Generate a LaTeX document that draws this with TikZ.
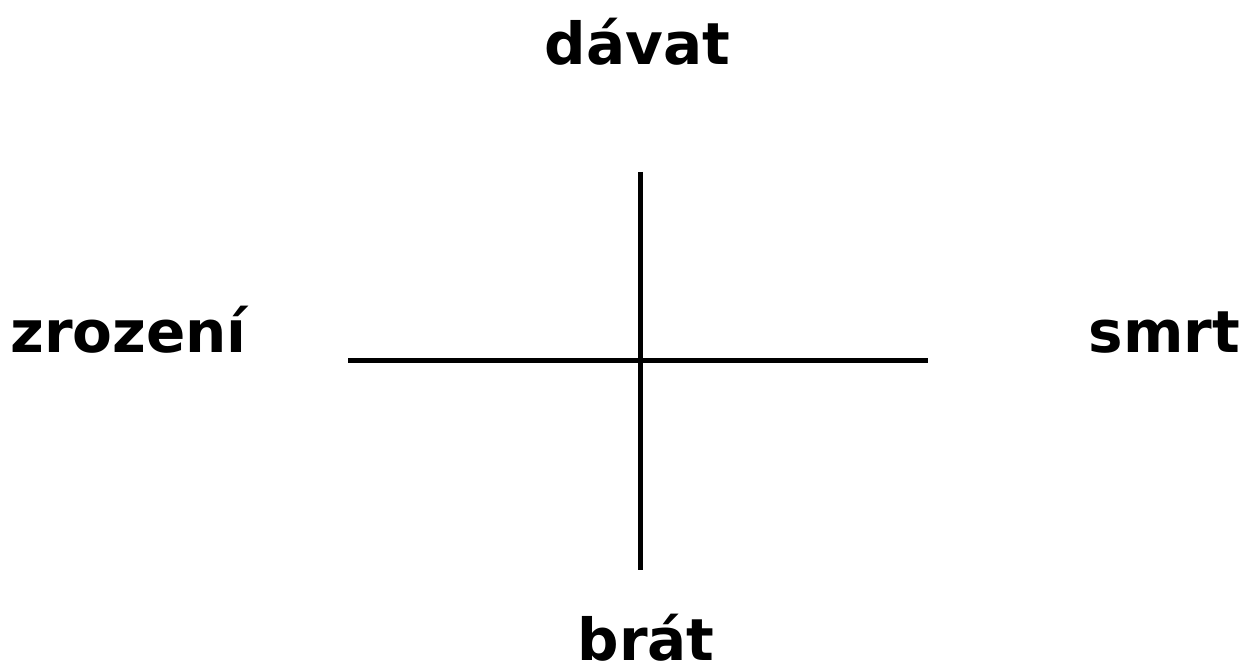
\documentclass[tikz,border=0pt]{standalone}
\usepackage{fontspec}
\setmainfont{DejaVu Sans}
\usetikzlibrary{positioning}

\begin{document}
\begin{tikzpicture}[
    x=0.5pt, y=-0.5pt,
    lbl/.style={inner sep=0pt, anchor=base, font=\fontsize{29}{32}\selectfont\bfseries},
    ax/.style={line width=2.5pt}]
\useasboundingbox (0,0) rectangle (1244,667);
\node[lbl] (give) at (637.5,65) {dávat};
\node[lbl] (take) at (646,661) {brát};
\node[lbl] (birth) at (128.5,353) {zrození};
\node[lbl] (death) at (1164.5,353) {smrt};
\coordinate (top) at (640,172);
\coordinate (bot) at (640,570);
\coordinate (lft) at (348,361);
\coordinate (rgt) at (928,361);
\draw[ax] (top) -- (bot);
\draw[ax] (lft) -- (rgt);
\end{tikzpicture}
\end{document}
